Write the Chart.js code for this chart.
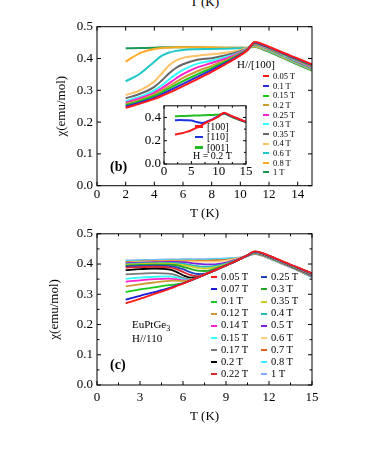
<!DOCTYPE html>
<html>
<head>
<meta charset="utf-8">
<script src="https://cdn.jsdelivr.net/npm/chart.js@4/dist/chart.umd.min.js"></script>
<style>
body { margin: 0; background: #fff; }
#page { position: relative; width: 366px; height: 473px; overflow: hidden; font-family: "Liberation Serif", serif; color: #000; background: #fff; }
canvas { position: absolute; }
.txt { position: absolute; white-space: nowrap; line-height: 1; }
.leg { position: absolute; white-space: nowrap; line-height: 1; }
.leg span { display: inline-block; vertical-align: middle; }
</style>
</head>
<body>
<div id="page">
  <div class="txt" style="left:190px;top:-5px;font-size:13px;">T (K)</div>
  <canvas id="chartB" width="366" height="221" style="left:0;top:0"></canvas>
  <canvas id="chartI" width="130" height="90" style="left:125px;top:95px"></canvas>
  <canvas id="chartC" width="366" height="251" style="left:0;top:222px"></canvas>
  <div class="txt" style="left:110px;top:160px;font-size:14px;font-weight:bold;">(b)</div>
  <div class="txt" style="left:237px;top:59px;font-size:11px;">H//[100]</div>
  <div class="txt" style="left:193px;top:151px;font-size:10px;">H = 0.2 T</div>
  <div class="txt" style="left:110px;top:358px;font-size:14px;font-weight:bold;">(c)</div>
  <div class="txt" style="left:132px;top:319px;font-size:11px;">EuPtGe<sub style="font-size:8px">3</sub></div>
  <div class="txt" style="left:132px;top:333px;font-size:11px;">H//110</div>
</div>
<script>
const SERIF = '"Liberation Serif", serif';

// ---- panel (b): H//[100]
const tB = [2, 3, 4, 4.5, 5, 5.5, 6, 7, 8, 9, 10, 10.5, 11, 11.5, 12, 13, 14, 15];
const fieldsB = ['0.05 T', '0.1 T', '0.15 T', '0.2 T', '0.25 T', '0.3 T', '0.35 T', '0.4 T', '0.6 T', '0.8 T', '1 T'];
const colorsB = ['#ff1a1a', '#2b2bd9', '#19c819', '#cc9933', '#ff22cc', '#33ffff', '#666666', '#ffc266', '#1fc7c7', '#ffaa22', '#1a9955'];
const b005 = [.245, .258, .273, .282, .292, .302, .313, .335, .358, .383, .410, .426, .452, .446, .437, .418, .400, .382];
const b010 = [.249, .262, .277, .287, .298, .309, .320, .342, .364, .387, .412, .427, .450, .444, .435, .416, .398, .380];
const b015 = [.253, .266, .282, .293, .305, .317, .329, .350, .370, .391, .414, .428, .449, .443, .434, .415, .396, .378];
const b020 = [.257, .270, .287, .299, .312, .326, .339, .360, .377, .395, .416, .429, .448, .442, .433, .414, .395, .376];
const b025 = [.261, .275, .293, .306, .321, .337, .351, .372, .386, .400, .418, .430, .447, .441, .432, .413, .393, .374];
const b030 = [.266, .280, .300, .315, .333, .350, .364, .384, .393, .405, .420, .431, .446, .440, .431, .411, .391, .372];
const b035 = [.275, .289, .311, .330, .352, .370, .382, .396, .401, .410, .423, .432, .444, .438, .429, .409, .389, .370];
const b040 = [.285, .300, .328, .352, .377, .393, .402, .409, .413, .418, .427, .433, .442, .436, .427, .407, .387, .368];
const b060 = [.328, .352, .390, .408, .418, .424, .427, .429, .430, .431, .432, .433, .440, .434, .425, .405, .385, .366];
const b080 = [.390, .417, .430, .433, .434, .435, .435, .435, .435, .434, .434, .434, .438, .432, .423, .403, .383, .364];
const b100 = [.432, .433, .434, .435, .435, .435, .435, .435, .434, .434, .434, .434, .436, .430, .421, .401, .381, .362];
const seriesB = [b005, b010, b015, b020, b025, b030, b035, b040, b060, b080, b100];
const xTicksB = [0, 2, 4, 6, 8, 10, 12, 14];
const yTicksB = [0, 0.1, 0.2, 0.3, 0.4, 0.5];

// ---- inset: H = 0.2 T
const tI = [2, 3, 4, 5, 6, 7, 8, 9, 10, 11, 12, 13, 14, 15];
const dirsI = ['[100]', '[110]', '[001]'];
const colorsI = ['#ff1a1a', '#1a33dd', '#22bb22'];
const i100 = [.253, .262, .274, .290, .312, .337, .362, .384, .410, .440, .420, .400, .380, .362];
const i110 = [.376, .377, .376, .374, .360, .352, .368, .388, .412, .436, .417, .397, .378, .360];
const i001 = [.410, .412, .413, .415, .417, .418, .420, .422, .424, .432, .412, .392, .375, .358];
const seriesI = [i100, i110, i001];
const xTicksI = [0, 5, 10, 15];
const yTicksI = [0, 0.2, 0.4];

// ---- panel (c): H//110
const tC = [2, 3, 4, 5, 5.5, 6, 6.5, 7, 7.5, 8, 9, 10, 10.5, 11, 11.5, 12, 13, 14, 15];
const fieldsC = ['0.05 T', '0.07 T', '0.1 T', '0.12 T', '0.14 T', '0.15 T', '0.17 T', '0.2 T', '0.22 T',
                 '0.25 T', '0.3 T', '0.35 T', '0.4 T', '0.5 T', '0.6 T', '0.7 T', '0.8 T', '1 T'];
const colorsC = ['#ff1a1a', '#1a1ad9', '#19c819', '#cc9933', '#ff22cc', '#33ffff', '#777777', '#000000', '#d92633',
                 '#2244bb', '#22aa22', '#cccc22', '#22bbbb', '#7f22dd', '#ffcc77', '#e0661a', '#33eeff', '#88aaff'];
const c005 = [.270, .285, .301, .317, .326, .335, .345, .355, .365, .375, .395, .417, .429, .442, .437, .428, .408, .389, .370];
const c007 = [.282, .295, .307, .320, .328, .336, .345, .355, .365, .375, .395, .417, .429, .441, .436, .427, .407, .388, .369];
const c010 = [.308, .316, .323, .330, .333, .337, .345, .355, .365, .375, .395, .417, .429, .441, .436, .427, .407, .388, .368];
const c012 = [.326, .333, .339, .344, .345, .344, .347, .355, .365, .375, .395, .417, .429, .440, .435, .426, .406, .387, .367];
const c014 = [.342, .346, .350, .352, .350, .346, .347, .355, .365, .375, .395, .417, .429, .440, .435, .426, .406, .386, .366];
const c015 = [.351, .355, .358, .359, .356, .350, .348, .355, .365, .375, .395, .417, .429, .439, .434, .425, .405, .386, .366];
const c017 = [.366, .368, .370, .368, .363, .354, .349, .355, .365, .375, .395, .417, .429, .439, .434, .425, .405, .385, .365];
const c020 = [.380, .383, .385, .382, .375, .363, .355, .356, .365, .375, .395, .417, .429, .439, .434, .425, .405, .385, .365];
const c022 = [.388, .390, .391, .389, .384, .374, .364, .360, .366, .376, .395, .417, .429, .438, .433, .424, .404, .384, .364];
const c025 = [.392, .394, .395, .394, .390, .383, .373, .367, .368, .377, .396, .417, .428, .438, .433, .424, .404, .384, .363];
const c030 = [.395, .397, .398, .398, .396, .391, .384, .378, .377, .381, .397, .417, .428, .437, .432, .423, .403, .383, .363];
const c035 = [.398, .400, .401, .401, .400, .397, .392, .387, .385, .387, .399, .418, .428, .437, .432, .423, .403, .383, .362];
const c040 = [.400, .402, .403, .404, .403, .401, .397, .393, .391, .392, .401, .418, .427, .436, .431, .422, .402, .382, .361];
const c050 = [.403, .405, .406, .407, .407, .406, .404, .401, .399, .399, .405, .419, .427, .436, .431, .422, .402, .382, .360];
const c060 = [.405, .407, .408, .409, .409, .409, .409, .408, .408, .408, .411, .420, .427, .435, .430, .421, .401, .381, .359];
const c070 = [.407, .409, .410, .411, .411, .411, .411, .411, .411, .412, .414, .420, .427, .434, .429, .420, .400, .380, .358];
const c080 = [.410, .411, .412, .413, .413, .414, .414, .414, .414, .415, .417, .421, .427, .434, .429, .420, .400, .380, .357];
const c100 = [.412, .413, .414, .415, .415, .416, .416, .416, .416, .417, .419, .422, .427, .433, .428, .419, .399, .379, .356];
const seriesC = [c005, c007, c010, c012, c014, c015, c017, c020, c022, c025, c030, c035, c040, c050, c060, c070, c080, c100];
const xTicksC = [0, 3, 6, 9, 12, 15];
const xMinorC = [1.5, 4.5, 7.5, 10.5, 13.5];
const yTicksC = [0, 0.1, 0.2, 0.3, 0.4, 0.5];
const yMinorC = [0.05, 0.15, 0.25, 0.35, 0.45];

// box frame with inward ticks on all four sides
const frameTicks = {
  id: 'frameTicks',
  afterDatasetsDraw(chart, args, o) {
    const {ctx, chartArea: a, scales: {x, y}} = chart;
    ctx.save();
    ctx.strokeStyle = '#000';
    ctx.lineWidth = 1;
    ctx.strokeRect(a.left, a.top, a.right - a.left, a.bottom - a.top);
    ctx.beginPath();
    const mark = (vals, len, isX) => vals.forEach(v => {
      if (isX) {
        const p = x.getPixelForValue(v);
        ctx.moveTo(p, a.bottom); ctx.lineTo(p, a.bottom - len);
        ctx.moveTo(p, a.top); ctx.lineTo(p, a.top + len);
      } else {
        const p = y.getPixelForValue(v);
        ctx.moveTo(a.left, p); ctx.lineTo(a.left + len, p);
        ctx.moveTo(a.right, p); ctx.lineTo(a.right - len, p);
      }
    });
    mark(x.ticks.map(t => t.value), o.len, true);
    mark(y.ticks.map(t => t.value), o.len, false);
    mark(o.xMinor || [], o.minorLen, true);
    mark(o.yMinor || [], o.minorLen, false);
    ctx.stroke();
    ctx.restore();
  }
};

function makeChart(id, t, series, labels, colors, p) {
  const datasets = series.map((arr, i) => ({
    label: labels[i],
    data: t.map((tv, j) => ({x: tv, y: arr[j]})),
    borderColor: colors[i],
    backgroundColor: colors[i],
    borderWidth: p.lw,
    pointRadius: 0,
    fill: false,
    cubicInterpolationMode: 'monotone'
  }));
  const title = (text, pad) => text
    ? {display: true, text: text, color: '#000', font: {family: SERIF, size: p.titleSize}, padding: pad}
    : {display: false};
  return new Chart(document.getElementById(id), {
    type: 'line',
    data: {datasets: datasets},
    plugins: [frameTicks],
    options: {
      responsive: false,
      animation: false,
      layout: {padding: p.pad},
      plugins: {legend: {display: false}, tooltip: {enabled: false}, frameTicks: p.frame},
      scales: {
        x: {
          type: 'linear', min: p.xRange[0], max: p.xRange[1],
          afterFit: s => { s.height = p.xH; },
          afterBuildTicks: s => { s.ticks = p.xTicks.map(v => ({value: v})); },
          grid: {display: false, drawTicks: false}, border: {display: false},
          ticks: {color: '#000', font: {family: SERIF, size: p.tickSize}, padding: p.xPad,
                  maxRotation: 0, autoSkip: false, callback: v => String(v)},
          title: title(p.xTitle, {top: 0, bottom: 0})
        },
        y: {
          type: 'linear', min: p.yRange[0], max: p.yRange[1],
          afterFit: s => { s.width = p.yW; },
          afterBuildTicks: s => { s.ticks = p.yTicks.map(v => ({value: v})); },
          grid: {display: false, drawTicks: false}, border: {display: false},
          ticks: {color: '#000', font: {family: SERIF, size: p.tickSize}, padding: p.yPad,
                  autoSkip: false, callback: v => v.toFixed(1)},
          title: title(p.yTitle, {top: p.yTitlePad, bottom: 0})
        }
      }
    }
  });
}

makeChart('chartB', tB, seriesB, fieldsB, colorsB, {
  lw: 2, pad: {left: 0, right: 54, top: 26.7, bottom: 0},
  xRange: [0, 15], yRange: [0, 0.5], xTicks: xTicksB, yTicks: yTicksB,
  xH: 35.3, yW: 97, xPad: 1.5, yPad: 4, tickSize: 13, titleSize: 13,
  xTitle: 'T (K)', yTitle: 'χ(emu/mol)', yTitlePad: 54,
  frame: {len: 4, minorLen: 2}
});

makeChart('chartI', tI, seriesI, dirsI, colorsI, {
  lw: 2, pad: {left: 0, right: 9, top: 5, bottom: 0},
  xRange: [0, 15], yRange: [0, 0.5], xTicks: xTicksI, yTicks: yTicksI,
  xH: 21, yW: 39, xPad: 0, yPad: 3, tickSize: 13, titleSize: 13,
  xTitle: null, yTitle: null, yTitlePad: 0,
  frame: {len: 3, minorLen: 2, xMinor: [2.5, 7.5, 12.5], yMinor: [0.1, 0.3]}
});

makeChart('chartC', tC, seriesC, fieldsC, colorsC, {
  lw: 1.8, pad: {left: 0, right: 54, top: 4.7, bottom: 48.2},
  xRange: [0, 15], yRange: [0, 0.5], xTicks: xTicksC, yTicks: yTicksC,
  xH: 39.8, yW: 97, xPad: 5.2, yPad: 4, tickSize: 13, titleSize: 13,
  xTitle: 'T (K)', yTitle: 'χ(emu/mol)', yTitlePad: 47,
  frame: {len: 4, minorLen: 2.5, xMinor: xMinorC, yMinor: yMinorC}
});

// html legends built from the same labels and colours
function addLegend(labels, colors, x0, y0, dy, perCol, colDx, size, mw, mh, gap) {
  const page = document.getElementById('page');
  labels.forEach((lab, i) => {
    const col = Math.floor(i / perCol), row = i % perCol;
    const d = document.createElement('div');
    d.className = 'leg';
    d.style.left = (x0 + col * colDx) + 'px';
    d.style.top = (y0 + row * dy - size / 2) + 'px';
    d.style.fontSize = size + 'px';
    d.innerHTML = '<span style="width:' + mw + 'px;height:' + mh + 'px;background:' + colors[i] +
      ';margin-right:' + gap + 'px"></span><span>' + lab + '</span>';
    page.appendChild(d);
  });
}
addLegend(fieldsB, colorsB, 263, 75.7, 9.6, 11, 0, 8.5, 6, 2, 4);
addLegend(dirsI, colorsI, 195, 126, 10.5, 3, 0, 10, 8, 2.5, 4);
addLegend(fieldsC, colorsC, 211, 277, 12.1, 9, 50, 10.5, 6, 2, 4);
</script>
</body>
</html>
